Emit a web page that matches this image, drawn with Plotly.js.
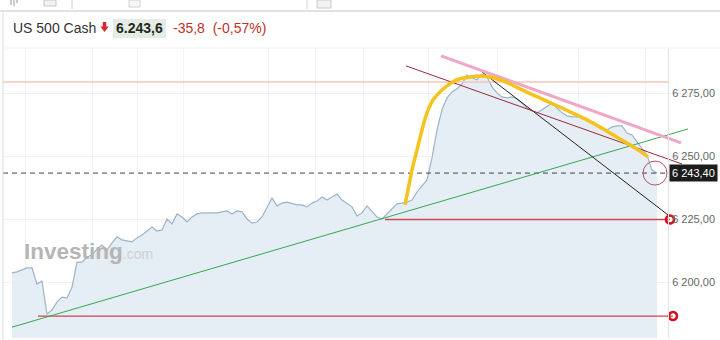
<!DOCTYPE html>
<html>
<head>
<meta charset="utf-8">
<script src="https://cdn.plot.ly/plotly-3.0.1.min.js"></script>
<style>html,body{margin:0;padding:0;background:#fff;}#chart{width:720px;height:340px;}</style>
</head>
<body>
<div id="chart"></div>
<script>
// ---- data (bar index along x, price on y) ----
const prices = [
  6203.8, 6204.2, 6205.0, 6205.8, 6205.8, 6199.4, 6200.6, 6187.5, 6189.1, 6192.3,
  6194.2, 6193.8, 6198.2, 6208.1, 6208.1, 6210.1, 6210.9, 6213.3, 6214.9, 6212.9,
  6215.7, 6218.1, 6216.9, 6216.5, 6216.1, 6217.7, 6218.8, 6220.4, 6222.0, 6220.4,
  6220.8, 6225.2, 6223.2, 6227.2, 6226.0, 6224.0, 6226.0, 6227.2, 6227.6, 6227.6,
  6227.6, 6227.6, 6228.0, 6228.4, 6227.2, 6228.4, 6228.0, 6225.2, 6223.6, 6224.0,
  6226.0, 6230.0, 6233.5, 6230.4, 6231.5, 6231.9, 6231.2, 6230.8, 6230.8, 6230.0,
  6231.5, 6232.3, 6233.9, 6232.7, 6233.9, 6235.1, 6232.7, 6231.5, 6230.0, 6226.4,
  6227.6, 6230.4, 6228.0, 6226.0, 6225.2, 6227.2, 6229.6, 6231.2, 6231.5, 6231.9,
  6232.7, 6235.9, 6238.3, 6240.7, 6249.4, 6260.5, 6268.5, 6273.2, 6275.6, 6276.8,
  6278.8, 6282.3, 6281.2, 6280.4, 6282.7, 6281.5, 6277.6, 6275.2, 6273.6, 6273.2,
  6273.6, 6272.8, 6271.2, 6269.2, 6268.1, 6267.3, 6268.5, 6270.0, 6271.2, 6269.2,
  6267.3, 6266.1, 6265.7, 6265.7, 6265.7, 6264.1, 6263.3, 6262.1, 6260.9, 6260.5,
  6261.7, 6262.1, 6262.1, 6259.3, 6258.5, 6255.8, 6253.4, 6250.6, 6244.6, 6243.4
];
const barIndex = prices.map((_, i) => i);

const lastPrice = 6243.4;
const lastPriceLabel = "6 243,40";

// drawn annotations (bar index, price)
const curveX = [78.6, 79.2, 80.0, 81.0, 82.0, 83.0, 84.2, 85.6, 87.0, 88.2, 89.6, 91.6, 93.6, 95.6, 97.6, 99.6, 101.6, 104.6, 108.2, 111.6, 115.0, 118.6, 121.6, 124.6, 127.2];
const curveY = [6230.8, 6236.7, 6244.6, 6252.6, 6260.5, 6267.3, 6272.4, 6275.6, 6278.0, 6279.6, 6280.8, 6281.5, 6281.9, 6281.5, 6280.4, 6278.8, 6276.8, 6274.0, 6270.8, 6267.7, 6264.5, 6260.5, 6256.9, 6253.4, 6249.8];

const greenX = [0, 135.2],  greenY = [6182.3, 6260.9];
const blackX = [94, 131.2], blackY = [6283.5, 6226.8];
const maroonX = [78.8, 134], maroonY = [6285.9, 6247.0];
const pinkX = [85.8, 133.8], pinkY = [6289.9, 6255.4];
const salmonX = [-1.8, 131.2], salmonY = [6279.5, 6279.5];
const dashX = [-1.8, 131.2];
const supportHiX = [74.6, 131.6], supportHiY = [6225.0, 6225.0];
const supportLoX = [5.2, 132.2], supportLoY = [6186.7, 6186.7];
const circleX = [128.6];

const yTicks = [6200, 6225, 6250, 6275];
const xGrid = [2.6, 16, 25, 34.2, 51.2, 60.6, 70.2, 83.2, 97, 113.2, 126.6];

// ---- layout geometry ----
const L = 3, R = 28, T = 48, B = 2;
const W = 720 - L - R, H = 340 - T - B;
const px = x => (x - L) / W;
const py = y => 1 - (y - T) / H;

const FONT = "Liberation Sans, Arial, sans-serif";

const traces = [
  {x: barIndex, y: prices, type: 'scatter', mode: 'lines', fill: 'tozeroy',
   fillcolor: '#e5edf5', line: {color: '#9db4c8', width: 1.2}, hoverinfo: 'skip'},
  {x: salmonX, y: salmonY, mode: 'lines', line: {color: '#f4c4b8', width: 1.5}},
  {x: dashX, y: [lastPrice, lastPrice], mode: 'lines', line: {color: '#444', width: 1, dash: '5px,4px'}},
  {x: supportHiX, y: supportHiY, mode: 'lines', line: {color: '#d0454f', width: 1.3}},
  {x: supportLoX, y: supportLoY, mode: 'lines', line: {color: '#d0454f', width: 1.3}},
  {x: greenX, y: greenY, mode: 'lines', line: {color: '#36a852', width: 1}},
  {x: blackX, y: blackY, mode: 'lines', line: {color: '#222', width: 1}},
  {x: maroonX, y: maroonY, mode: 'lines', line: {color: '#9c2a3c', width: 1}},
  {x: pinkX, y: pinkY, mode: 'lines', line: {color: '#f1a6c6', width: 3}},
  {x: curveX, y: curveY, mode: 'lines', line: {color: '#f5c31c', width: 3.5, shape: 'spline', smoothing: 1}},
  {x: circleX, y: [lastPrice], mode: 'markers', cliponaxis: false,
   marker: {symbol: 'circle-open', size: 24, color: '#b8505e', line: {color: '#b8505e', width: 1}}},
  {x: [supportHiX[1], supportLoX[1]], y: [supportHiY[1], supportLoY[1]], mode: 'markers', cliponaxis: false,
   marker: {symbol: 'circle-open', size: 8, color: '#d4101e', line: {color: '#d4101e', width: 2.6}}}
];

const P = (x, y) => px(x) + ',' + py(y);
const shapes = [
  {type: 'line', xref: 'paper', yref: 'paper', x0: px(0), x1: px(720), y0: py(11), y1: py(11), line: {color: '#d8d8d8', width: 1.5}},
  {type: 'line', xref: 'paper', yref: 'paper', x0: px(3), x1: px(3), y0: py(12), y1: py(340), line: {color: '#dcdcdc', width: 1}},
  {type: 'line', xref: 'paper', yref: 'paper', x0: px(3), x1: px(720), y0: py(48), y1: py(48), line: {color: '#f2f2f2', width: 1}},
  // toolbar icons
  {type: 'line', xref: 'paper', yref: 'paper', x0: px(11), x1: px(11), y0: py(0), y1: py(5), line: {color: '#999', width: 1}},
  {type: 'line', xref: 'paper', yref: 'paper', x0: px(14), x1: px(14), y0: py(0), y1: py(6), line: {color: '#999', width: 1}},
  {type: 'line', xref: 'paper', yref: 'paper', x0: px(17), x1: px(17), y0: py(0), y1: py(3), line: {color: '#999', width: 1}},
  {type: 'rect', xref: 'paper', yref: 'paper', x0: px(44), x1: px(56), y0: py(0), y1: py(6), line: {color: '#c8c8c8', width: 1}, fillcolor: '#f2f2f2'},
  {type: 'line', xref: 'paper', yref: 'paper', x0: px(72), x1: px(72), y0: py(0), y1: py(9), line: {color: '#d0d0d0', width: 1}},
  {type: 'rect', xref: 'paper', yref: 'paper', x0: px(129), x1: px(140), y0: py(0), y1: py(7), line: {color: '#d0d0d0', width: 1}, fillcolor: '#f6f6f6'},
  {type: 'line', xref: 'paper', yref: 'paper', x0: px(307), x1: px(307), y0: py(0), y1: py(9), line: {color: '#d0d0d0', width: 1}},
  {type: 'rect', xref: 'paper', yref: 'paper', x0: px(317), x1: px(331), y0: py(0), y1: py(8), line: {color: '#c8c8c8', width: 1}, fillcolor: '#f2f2f2'},
  // price background
  {type: 'rect', xref: 'paper', yref: 'paper', x0: px(113), x1: px(166), y0: py(19), y1: py(38), line: {width: 0}, fillcolor: '#e5ece5'},
  // red down arrow
  {type: 'rect', xref: 'paper', yref: 'paper', x0: px(102.8), x1: px(106.2), y0: py(22), y1: py(27), line: {width: 0}, fillcolor: '#d9262b'},
  {type: 'path', xref: 'paper', yref: 'paper', path: 'M' + P(100.3, 26.5) + 'L' + P(108.7, 26.5) + 'L' + P(104.5, 32) + 'Z', line: {width: 0}, fillcolor: '#d9262b'}
];

const annotations = [
  {xref: 'paper', yref: 'paper', x: px(11), y: py(28), xanchor: 'left', yanchor: 'middle', showarrow: false,
   text: 'US 500 Cash', font: {family: FONT, size: 14, color: '#333'}},
  {xref: 'paper', yref: 'paper', x: px(114), y: py(28), xanchor: 'left', yanchor: 'middle', showarrow: false,
   text: '<b>6.243,6</b>', font: {family: FONT, size: 14, color: '#1f2a1f'}},
  {xref: 'paper', yref: 'paper', x: px(171), y: py(28), xanchor: 'left', yanchor: 'middle', showarrow: false,
   text: '-35,8  (-0,57%)', font: {family: FONT, size: 14, color: '#c2302b'}},
  {xref: 'paper', yref: 'paper', x: px(22), y: py(251), xanchor: 'left', yanchor: 'middle', showarrow: false,
   text: "<b>Investing</b><span style='font-size:14px;font-weight:normal;fill:#d0d0d0'>.com</span>",
   font: {family: FONT, size: 22.5, color: '#b5b5b5'}},
  {xref: 'paper', yref: 'y', x: px(669), y: lastPrice, xanchor: 'left', yanchor: 'middle', showarrow: false,
   text: lastPriceLabel, bgcolor: '#1c1c1c', borderpad: 2, font: {family: FONT, size: 11, color: '#fff'}}
];

const layout = {
  width: 720, height: 340,
  margin: {l: L, r: R, t: T, b: B, pad: 0},
  paper_bgcolor: '#fff', plot_bgcolor: '#fff',
  showlegend: false,
  separators: ', ',
  font: {family: FONT, size: 11, color: '#666'},
  xaxis: {range: [-1.8, 136], showticklabels: false, zeroline: false, showline: false,
          tickvals: xGrid, showgrid: true, gridcolor: '#f3f3f3', ticks: ''},
  yaxis: {range: [6178, 6293], side: 'right', anchor: 'free', position: px(668),
          tickvals: yTicks, tickformat: ',.2f', showgrid: true, gridcolor: '#f1f1f1',
          zeroline: false, showline: true, linecolor: '#e4e4e4', linewidth: 1,
          ticks: '', ticklabelstandoff: 1, tickfont: {family: FONT, size: 11, color: '#666'}},
  shapes: shapes,
  annotations: annotations
};

Plotly.newPlot('chart', traces, layout, {staticPlot: true, displayModeBar: false});
</script>
</body>
</html>
